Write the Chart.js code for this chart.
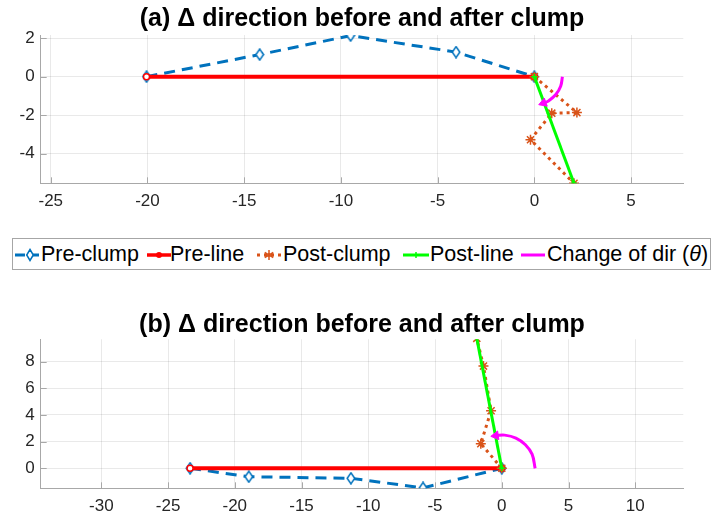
<!DOCTYPE html>
<html><head><meta charset="utf-8">
<script src="https://cdn.jsdelivr.net/npm/chart.js@4/dist/chart.umd.min.js"></script>
<style>
html,body{margin:0;padding:0;background:#fff;width:714px;height:517px;overflow:hidden;font-family:"Liberation Sans",Arial,Helvetica,sans-serif;}
#ca{position:absolute;left:0;top:0;}
#cb{position:absolute;left:0;top:280px;}
#legend{position:absolute;left:12px;top:238px;width:699px;height:32px;border:1px solid #a6a6a6;box-sizing:border-box;background:#fff;}
.sample{position:absolute;top:9px;}
.ltxt{position:absolute;top:3px;font-size:21.5px;line-height:25px;color:#000;white-space:nowrap;}
</style></head><body>
<canvas id="ca" width="714" height="235"></canvas>
<div id="legend"></div>
<canvas id="cb" width="714" height="237"></canvas>
<script>
// ---------- data ----------
const seriesNames = ['Pre-clump', 'Pre-line', 'Post-clump', 'Post-line', 'Change of dir (θ)'];

// (a)
const titleA = '(a) Δ direction before and after clump';
const preClumpAX = [-20.05, -14.2, -9.5, -4.05, 0];
const preClumpAY = [0, 1.15, 2.14, 1.28, 0];
const preLineAX = [-20.05, 0];
const preLineAY = [0, 0];
const postClumpAX = [0, 2.2, 0.9, -0.2, 2.05];
const postClumpAY = [0, -1.87, -1.9, -3.28, -5.55];
const postLineAX = [0, 2.05];
const postLineAY = [0, -5.55];
const arcAX = [1.45, 1.36, 1.11, 0.73, 0.47];
const arcAY = [0, -0.5, -0.93, -1.26, -1.37];
const xTicksA = [-25, -20, -15, -10, -5, 0, 5];
const yTicksA = [-4, -2, 0, 2];
const xRangeA = [-25.52, 7.7];
const yRangeA = [-5.55, 2.17];

// (b)
const titleB = '(b) Δ direction before and after clump';
const preClumpBX = [-23.35, -18.95, -11.3, -5.9, 0];
const preClumpBY = [0, -0.63, -0.75, -1.47, 0];
const preLineBX = [-23.35, 0];
const preLineBY = [0, 0];
const postClumpBX = [0, -1.57, -0.8, -1.37, -1.87];
const postClumpBY = [0, 1.85, 4.32, 7.67, 9.75];
const postLineBX = [0, -1.87];
const postLineBY = [0, 9.75];
const arcBX = [2.5, 2.27, 1.77, 1.06, 0.22, -0.45];
const arcBY = [0, 1.06, 1.77, 2.27, 2.49, 2.45];
const xTicksB = [-30, -25, -20, -15, -10, -5, 0, 5, 10];
const yTicksB = [0, 2, 4, 6, 8];
const xRangeB = [-34.54, 13.6];
const yRangeB = [-1.5, 9.68];

// ---------- style ----------
const FONT = '"Liberation Sans", Arial, Helvetica, sans-serif';
const BLUE = '#0072BD', RED = '#FF0000', ORANGE = '#D95319', GREEN = '#00FF00', MAG = '#FF00FF';
const GRID = 'rgba(38,38,38,0.10)', AXIS = '#a8a8a8', TXT = '#262626';

// tall open diamond marker (MATLAB 'd')
const diamond = document.createElement('canvas');
diamond.width = 10; diamond.height = 13;
(function () {
  const c = diamond.getContext('2d');
  c.beginPath(); c.moveTo(5, 1); c.lineTo(8.8, 6.5); c.lineTo(5, 12); c.lineTo(1.2, 6.5); c.closePath();
  c.fillStyle = '#fff'; c.fill(); c.strokeStyle = BLUE; c.lineWidth = 1.5; c.stroke();
})();

function pts(xs, ys) { return xs.map((x, i) => ({ x: x, y: ys[i] })); }
function ticksFrom(arr) { return (scale) => { scale.ticks = arr.map(v => ({ value: v })); }; }

const inwardTicks = {
  id: 'inwardTicks',
  beforeDatasetsDraw(chart) {
    const ctx = chart.ctx, a = chart.chartArea, x = chart.scales.x, y = chart.scales.y;
    ctx.save();
    ctx.strokeStyle = AXIS; ctx.lineWidth = 1;
    ctx.beginPath();
    x.ticks.forEach(t => { const p = Math.round(x.getPixelForValue(t.value)) + 0.5; ctx.moveTo(p, a.bottom); ctx.lineTo(p, a.bottom - 6); });
    y.ticks.forEach(t => { const p = Math.round(y.getPixelForValue(t.value)) + 0.5; ctx.moveTo(a.left, p); ctx.lineTo(a.left + 6, p); });
    ctx.stroke();
    ctx.restore();
  }
};

function build(id, o) {
  const nArc = o.arcX.length;
  return new Chart(document.getElementById(id), {
    type: 'scatter',
    data: {
      datasets: [
        { label: seriesNames[0], data: pts(o.preX, o.preY), showLine: true, borderColor: BLUE, borderWidth: 3, borderDash: [11, 7],
          pointStyle: diamond, pointRadius: 5, order: 5 },
        { label: seriesNames[1], data: pts(o.plX, o.plY), showLine: true, borderColor: RED, borderWidth: 4,
          pointStyle: 'circle', pointRadius: 3, pointBorderWidth: 1.5, pointBackgroundColor: '#fff', pointBorderColor: RED, order: 4 },
        { label: seriesNames[2], data: pts(o.pcX, o.pcY), showLine: true, borderColor: ORANGE, borderWidth: 3, borderDash: [3, 4],
          pointStyle: 'star', pointRadius: 5, pointBorderWidth: 1.5, pointBackgroundColor: ORANGE, pointBorderColor: ORANGE, order: 3 },
        { label: seriesNames[3], data: pts(o.lnX, o.lnY), showLine: true, borderColor: GREEN, borderWidth: 3,
          pointStyle: 'cross', pointRadius: 3, pointBorderWidth: 1.5, pointBorderColor: GREEN, order: 2 },
        { label: seriesNames[4], data: pts(o.arcX, o.arcY), showLine: true, borderColor: MAG, borderWidth: 3, tension: 0.4,
          pointStyle: 'triangle', pointRadius: (c) => c.dataIndex === nArc - 1 ? 5 : 0,
          pointRotation: (c) => c.dataIndex === nArc - 1 ? o.arrowRot : 0,
          pointBackgroundColor: MAG, pointBorderColor: MAG, pointBorderWidth: 1, order: 1 }
      ]
    },
    options: {
      responsive: false, animation: false,
      layout: { padding: { left: 0, right: 30.7, top: 0, bottom: o.padB } },
      plugins: {
        legend: { display: false }, tooltip: { enabled: false },
        title: { display: true, text: o.title, fullSize: false, color: '#000',
          font: { family: FONT, size: 25, weight: 'bold', lineHeight: 1 }, padding: { top: o.tTop, bottom: o.tBot } }
      },
      scales: {
        x: { type: 'linear', min: o.xr[0], max: o.xr[1], afterBuildTicks: ticksFrom(o.xt), afterFit: s => { s.height = o.xh; },
          grid: { color: GRID, drawTicks: false }, border: { color: AXIS, width: 1 },
          ticks: { font: { family: FONT, size: 17 }, color: TXT, padding: 8, maxRotation: 0, autoSkip: false } },
        y: { type: 'linear', min: o.yr[0], max: o.yr[1], afterBuildTicks: ticksFrom(o.yt), afterFit: s => { s.width = 40.7; },
          grid: { color: GRID, drawTicks: false }, border: { color: AXIS, width: 1 },
          ticks: { font: { family: FONT, size: 17 }, color: TXT, padding: 6, autoSkip: false } }
      }
    },
    plugins: [inwardTicks]
  });
}

build('ca', { title: titleA, preX: preClumpAX, preY: preClumpAY, plX: preLineAX, plY: preLineAY, pcX: postClumpAX, pcY: postClumpAY,
  lnX: postLineAX, lnY: postLineAY, arcX: arcAX, arcY: arcAY, xt: xTicksA, yt: yTicksA, xr: xRangeA, yr: yRangeA,
  arrowRot: 250, padB: 21.7, xh: 30, tTop: 7, tBot: 3 });
build('cb', { title: titleB, preX: preClumpBX, preY: preClumpBY, plX: preLineBX, plY: preLineBY, pcX: postClumpBX, pcY: postClumpBY,
  lnX: postLineBX, lnY: postLineBY, arcX: arcBX, arcY: arcBY, xt: xTicksB, yt: yTicksB, xr: xRangeB, yr: yRangeB,
  arrowRot: 262, padB: 0.7, xh: 28, tTop: 32.5, tBot: 1.8 });

// ---------- legend (HTML) ----------
const legendSampleX = [2, 134, 244, 390, 508];
const legendTextX = [28, 157, 270, 417, 534];
const sampleSvgs = [
  '<line x1="0" y1="7" x2="24" y2="7" stroke="' + BLUE + '" stroke-width="3" stroke-dasharray="10 6"/><polygon points="15,1.5 18.3,7 15,12.5 11.7,7" fill="#fff" stroke="' + BLUE + '" stroke-width="1.5"/>',
  '<line x1="0" y1="7" x2="24" y2="7" stroke="' + RED + '" stroke-width="3.5"/><circle cx="12" cy="7" r="3" fill="' + RED + '"/>',
  '<line x1="0" y1="7" x2="24" y2="7" stroke="' + ORANGE + '" stroke-width="3" stroke-dasharray="3 4"/><path d="M12 2V12M7.7 4.5L16.3 9.5M7.7 9.5L16.3 4.5" stroke="' + ORANGE + '" stroke-width="1.5"/>',
  '<line x1="0" y1="7" x2="26" y2="7" stroke="' + GREEN + '" stroke-width="3"/><path d="M13 4V10" stroke="' + GREEN + '" stroke-width="1.5"/>',
  '<line x1="0" y1="7" x2="24" y2="7" stroke="' + MAG + '" stroke-width="3"/>'
];
const lg = document.getElementById('legend');
seriesNames.forEach((name, i) => {
  const s = document.createElement('div');
  s.className = 'sample'; s.style.left = legendSampleX[i] + 'px';
  s.innerHTML = '<svg width="26" height="14">' + sampleSvgs[i] + '</svg>';
  lg.appendChild(s);
  const t = document.createElement('div');
  t.className = 'ltxt'; t.style.left = legendTextX[i] + 'px';
  t.innerHTML = name.replace('θ', '<i>θ</i>');
  lg.appendChild(t);
});
</script>
</body></html>
